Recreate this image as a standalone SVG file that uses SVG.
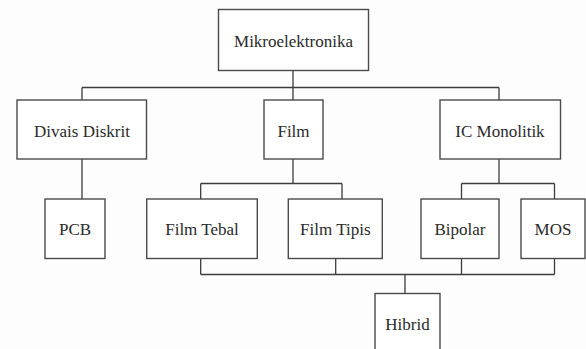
<svg xmlns="http://www.w3.org/2000/svg" width="586" height="349" viewBox="0 0 586 349">
<style>
.box{fill:#ffffff;stroke:#4a4a4a;stroke-width:1.4}
.lbl{font-family:'Liberation Serif','Times New Roman','DejaVu Serif',serif;font-size:17px;fill:#2a2a2a;text-anchor:middle}
.con{fill:none;stroke:#3c3c3c;stroke-width:1.3}
</style>
<rect width="586" height="349" fill="#fdfdfd"/>
<g id="connectors" class="con">
<path d="M293,70.5 V87.5 M82,87.5 H499 M82,87.5 V100 M293,87.5 V100 M499,87.5 V100"/>
<path d="M82,159 V199"/>
<path d="M293,159 V183.5 M200.7,183.5 H342 M200.7,183.5 V199 M342,183.5 V199"/>
<path d="M499,159 V183.5 M461.5,183.5 H554.5 M461.5,183.5 V199 M554.5,183.5 V199"/>
<path d="M200.7,258.5 V274.5 M335.7,258.5 V274.5 M461.5,258.5 V274.5 M554.5,258.5 V274.5 M200.7,274.5 H554.5 M405,274.5 V293.5"/>
</g>
<g id="mikroelektronika"><rect class="box" x="218.5" y="9.5" width="150" height="61"/><text class="lbl" font-family="Liberation Serif" x="293.5" y="46.5">Mikroelektronika</text></g>
<g id="divais-diskrit"><rect class="box" x="17" y="100" width="129.5" height="59"/><text class="lbl" font-family="Liberation Serif" x="82" y="136.5">Divais Diskrit</text></g>
<g id="film"><rect class="box" x="264" y="100" width="59" height="59"/><text class="lbl" font-family="Liberation Serif" x="293.5" y="136.5">Film</text></g>
<g id="ic-monolitik"><rect class="box" x="440" y="100" width="120.5" height="59"/><text class="lbl" font-family="Liberation Serif" x="500" y="136.5">IC Monolitik</text></g>
<g id="pcb"><rect class="box" x="45" y="199" width="60" height="59.5"/><text class="lbl" font-family="Liberation Serif" x="75" y="235">PCB</text></g>
<g id="film-tebal"><rect class="box" x="146.7" y="199" width="110.6" height="59.5"/><text class="lbl" font-family="Liberation Serif" x="202" y="235">Film Tebal</text></g>
<g id="film-tipis"><rect class="box" x="288.3" y="199" width="94" height="59.5"/><text class="lbl" font-family="Liberation Serif" x="335.3" y="235">Film Tipis</text></g>
<g id="bipolar"><rect class="box" x="421" y="199" width="78" height="59.5"/><text class="lbl" font-family="Liberation Serif" x="460" y="235">Bipolar</text></g>
<g id="mos"><rect class="box" x="521" y="199" width="64" height="59.5"/><text class="lbl" font-family="Liberation Serif" x="553" y="235">MOS</text></g>
<g id="hibrid"><rect class="box" x="375" y="293.5" width="65" height="70"/><text class="lbl" font-family="Liberation Serif" x="407.5" y="330">Hibrid</text></g>
</svg>
